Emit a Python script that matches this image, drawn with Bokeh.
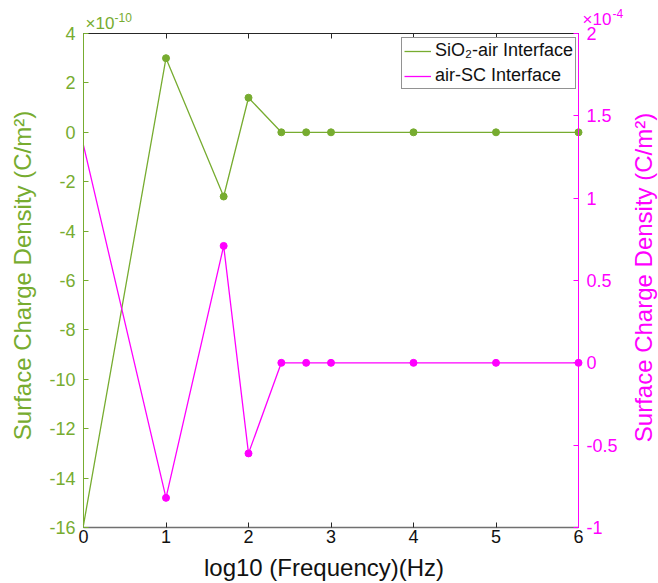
import math
from bokeh.plotting import figure
from bokeh.models import Range1d, LinearAxis, FixedTicker, Label, Legend, LegendItem
from bokeh.embed import file_html
from bokeh.resources import INLINE

# ---- data ----
log_freq = [0, 1, 1.699, 2, 2.398, 2.699, 3, 4, 5, 6]
sio2_air = [-15.9, 3.0, -2.6, 1.4, 0, 0, 0, 0, 0, 0]      # x 1e-10 C/m^2
air_sc = [1.32, -0.82, 0.71, -0.55, 0, 0, 0, 0, 0, 0]      # x 1e-4 C/m^2

x_ticks = [0, 1, 2, 3, 4, 5, 6]
x_tick_labels = ["0", "1", "2", "3", "4", "5", "6"]
left_ticks = [-16, -14, -12, -10, -8, -6, -4, -2, 0, 2, 4]
left_tick_labels = ["-16", "-14", "-12", "-10", "-8", "-6", "-4", "-2", "0", "2", "4"]
right_ticks = [-1, -0.5, 0, 0.5, 1, 1.5, 2]
right_tick_labels = ["-1", "-0.5", "0", "0.5", "1", "1.5", "2"]

series_names = ["SiO\u2082-air Interface", "air-SC Interface"]
x_title = "log10 (Frequency)(Hz)"
y_title = "Surface Charge Density (C/m\u00b2)"
left_exp = ("\u00d710", "-10")
right_exp = ("\u00d710", "-4")

# ---- layout constants ----
W, H = 658, 583
PAD_L, PAD_R, PAD_T, PAD_B = 83, 80, 33, 56     # pixels around the axes box
X0, X1 = 0, 6
YL0, YL1 = -16, 4
YR0, YR1 = -1, 2
box_w = W - PAD_L - PAD_R
box_h = H - PAD_T - PAD_B
kx = (X1 - X0) / box_w
kl = (YL1 - YL0) / box_h
kr = (YR1 - YR0) / box_h

FONT = "Liberation Sans"
GREEN = "#77AC30"
MAGENTA = "#FF00FF"
DARK = "#262626"

p = figure(width=W, height=H, title=None,
           x_range=Range1d(X0 - PAD_L * kx, X1 + PAD_R * kx),
           y_range=Range1d(YL0 - PAD_B * kl, YL1 + PAD_T * kl),
           x_axis_location=None, y_axis_location=None,
           output_backend="svg", toolbar_location=None,
           min_border=0, min_border_left=0, min_border_right=0,
           min_border_top=0, min_border_bottom=0)
p.extra_y_ranges = {"r": Range1d(YR0 - PAD_B * kr, YR1 + PAD_T * kr)}
p.outline_line_color = None
p.grid.visible = False
p.background_fill_color = "white"
p.border_fill_color = "white"


def style_axis(ax, color, ticks, labels, standoff, line_color=None, line_width=1.0):
    ax.ticker = FixedTicker(ticks=ticks)
    ax.major_label_overrides = {t: l for t, l in zip(ticks, labels)}
    ax.major_tick_in = 5
    ax.major_tick_out = 0
    ax.minor_tick_line_color = None
    ax.axis_line_color = line_color or color
    ax.axis_line_width = line_width
    ax.major_tick_line_color = line_color or color
    ax.major_label_text_color = color
    ax.major_label_text_font = FONT
    ax.major_label_text_font_size = "18px"
    ax.major_label_standoff = standoff


bottom = LinearAxis(fixed_location=YL0, bounds=(X0, X1))
style_axis(bottom, "#111111", x_ticks, x_tick_labels, 2, line_color="#707070", line_width=1.5)
bottom.major_tick_line_color = DARK
p.add_layout(bottom, "below")

top = LinearAxis(fixed_location=YL1, bounds=(X0, X1), ticker=FixedTicker(ticks=x_ticks))
top.major_tick_in = 5
top.major_tick_out = 0
top.minor_tick_line_color = None
top.axis_line_color = DARK
top.major_tick_line_color = DARK
top.major_label_text_alpha = 0
top.major_label_text_font_size = "1px"
p.add_layout(top, "above")

left = LinearAxis(fixed_location=X0, bounds=(YL0, YL1))
style_axis(left, GREEN, left_ticks, left_tick_labels, 8)
p.add_layout(left, "left")

right = LinearAxis(fixed_location=X1, bounds=(YR0, YR1), y_range_name="r")
style_axis(right, MAGENTA, right_ticks, right_tick_labels, 8)
p.add_layout(right, "right")

# ---- series ----
g_line = p.line(log_freq, sio2_air, line_color=GREEN, line_width=1.3)
p.scatter(log_freq[1:], sio2_air[1:], size=7, color=GREEN)
m_line = p.line(log_freq, air_sc, line_color=MAGENTA, line_width=1.3, y_range_name="r")
p.scatter(log_freq[1:], air_sc[1:], size=7, color=MAGENTA, y_range_name="r")

legend = Legend(items=[LegendItem(label=series_names[0], renderers=[g_line]),
                       LegendItem(label=series_names[1], renderers=[m_line])],
                location=(401, H - 89), margin=0, padding=2, spacing=4,
                label_height=20, glyph_height=20, glyph_width=27, label_standoff=4,
                label_text_font=FONT, label_text_font_size="18px", label_text_color="#111111",
                border_line_color=DARK, border_line_width=1, background_fill_alpha=1)
p.add_layout(legend)

# ---- axis titles ----
p.add_layout(Label(x=(X0 + X1) / 2, y=YL0, x_offset=-7, y_offset=-40, text=x_title,
                   text_font=FONT, text_font_size="24px", text_color="#111111",
                   text_align="center", text_baseline="middle"))
p.add_layout(Label(x=X0, y=(YL0 + YL1) / 2, x_offset=-61, y_offset=5, text=y_title,
                   angle=math.pi / 2,
                   text_font=FONT, text_font_size="24px", text_color=GREEN,
                   text_align="center", text_baseline="middle"))
p.add_layout(Label(x=X1, y=(YL0 + YL1) / 2, x_offset=65, y_offset=3, text=y_title,
                   angle=math.pi / 2,
                   text_font=FONT, text_font_size="24px", text_color=MAGENTA,
                   text_align="center", text_baseline="middle"))

# ---- exponent markers ----
p.add_layout(Label(x=X0, y=YL1, x_offset=2, y_offset=10, text=left_exp[0],
                   text_font=FONT, text_font_size="17px", text_color=GREEN,
                   text_align="left", text_baseline="middle"))
p.add_layout(Label(x=X0, y=YL1, x_offset=31, y_offset=16, text=left_exp[1],
                   text_font=FONT, text_font_size="12px", text_color=GREEN,
                   text_align="left", text_baseline="middle"))
p.add_layout(Label(x=X1, y=YL1, x_offset=4, y_offset=14, text=right_exp[0],
                   text_font=FONT, text_font_size="17px", text_color=MAGENTA,
                   text_align="left", text_baseline="middle"))
p.add_layout(Label(x=X1, y=YL1, x_offset=34, y_offset=20, text=right_exp[1],
                   text_font=FONT, text_font_size="12px", text_color=MAGENTA,
                   text_align="left", text_baseline="middle"))

open("out.html", "w").write(file_html(p, INLINE))
